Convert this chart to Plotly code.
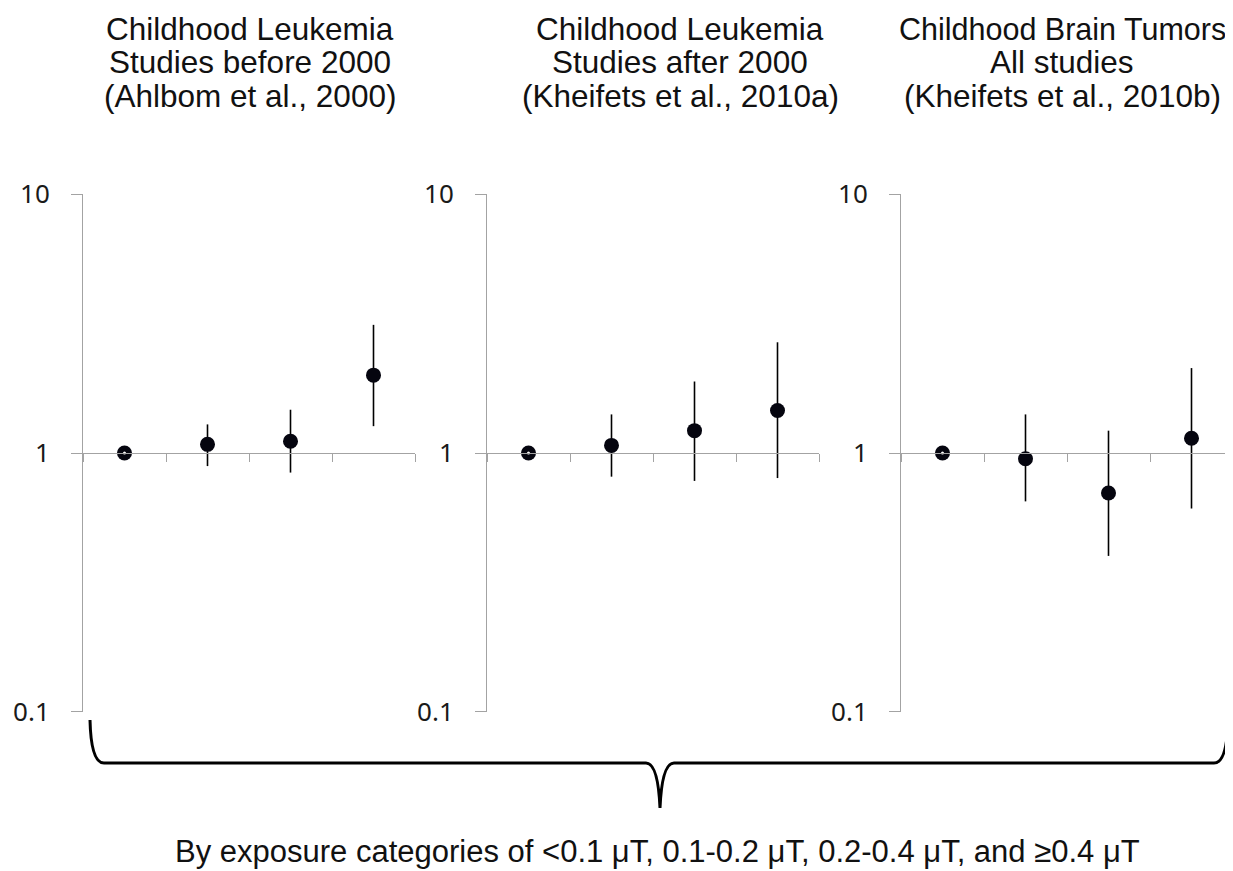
import plotly.graph_objects as go
import math

# ---------------- data ----------------
categories = ["<0.1 μT", "0.1-0.2 μT", "0.2-0.4 μT", "≥0.4 μT"]
cat_pos = [1, 2, 3, 4]

title_ahlbom = ["Childhood Leukemia", "Studies before 2000", "(Ahlbom et al., 2000)"]
title_k10a = ["Childhood Leukemia", "Studies after 2000", "(Kheifets et al., 2010a)"]
title_k10b = ["Childhood Brain Tumors", "All studies", "(Kheifets et al., 2010b)"]

or_ahlbom = [1.00, 1.08, 1.11, 2.00]
lo_ahlbom = [1.00, 0.89, 0.84, 1.27]
hi_ahlbom = [1.00, 1.29, 1.47, 3.13]

or_k10a = [1.00, 1.07, 1.22, 1.46]
lo_k10a = [1.00, 0.81, 0.78, 0.80]
hi_k10a = [1.00, 1.41, 1.89, 2.68]

or_k10b = [1.00, 0.95, 0.70, 1.14]
lo_k10b = [1.00, 0.65, 0.40, 0.61]
hi_k10b = [1.00, 1.41, 1.22, 2.13]

y_ticks = [0.1, 1, 10]
y_ticktext = ["0.1", "1", "10"]
footer = "By exposure categories of <0.1 μT, 0.1-0.2 μT, 0.2-0.4 μT, and ≥0.4 μT"

# ---------------- layout helpers ----------------
W, H = 1233, 871
OFF = 8  # the page's default body margin shifts the figure by 8 px
def px(x):
    return (x - OFF) / W
def py(y):
    return 1 - (y - OFF) / H

panels = [
    (title_ahlbom, or_ahlbom, lo_ahlbom, hi_ahlbom, 83, 415, 250, [31.5, 31.5, 31.5]),
    (title_k10a, or_k10a, lo_k10a, hi_k10a, 487, 819, 680, [31.5, 31.5, 31.5]),
    (title_k10b, or_k10b, lo_k10b, hi_k10b, 901, 1233, 1062, [30.5, 31.5, 31.5]),
]
y_top, y_bot = 194, 712
ydom = [py(y_bot), py(y_top)]
yrange = [-1.0015, 1.0015]
# paper position of y = 1 (the level where the category axis crosses)
x_axis_pos = ydom[0] + (ydom[1] - ydom[0]) * (math.log10(1) - yrange[0]) / (yrange[1] - yrange[0])

GRID = "#a3a3a3"
fig = go.Figure()
annotations = []

for i, (ttl, orv, lo, hi, xl, xr, tc, tsizes) in enumerate(panels):
    n = "" if i == 0 else str(i + 1)
    xa, ya = "x" + n, "y" + n
    fig.add_trace(go.Scatter(
        x=cat_pos, y=orv, mode="markers", xaxis=xa, yaxis=ya,
        marker=dict(size=15, color="#05050f"),
        error_y=dict(type="data", symmetric=False,
                     array=[h - o for h, o in zip(hi, orv)],
                     arrayminus=[o - l for o, l in zip(orv, lo)],
                     color="black", thickness=1.6, width=0),
        showlegend=False, hoverinfo="skip",
    ))
    # small white centre on the reference category marker
    fig.add_trace(go.Scatter(
        x=cat_pos[:1], y=orv[:1], mode="markers", xaxis=xa, yaxis=ya,
        marker=dict(size=3, color="white"), showlegend=False, hoverinfo="skip",
    ))
    fig.layout["xaxis" + n] = dict(
        domain=[px(xl), px(xr)], range=[0.5, 4.5], anchor="free", position=x_axis_pos,
        showline=True, linecolor=GRID, linewidth=1,
        tickvals=[0.5, 1.5, 2.5, 3.5, 4.5], ticks="outside", ticklen=8,
        tickcolor=GRID, tickwidth=1, showticklabels=False,
        showgrid=False, zeroline=False, fixedrange=True, automargin=False,
    )
    fig.layout["yaxis" + n] = dict(
        domain=ydom, type="log", range=yrange, anchor=xa,
        tickvals=y_ticks, ticktext=y_ticktext,
        ticks="outside", ticklen=11, tickcolor=GRID, tickwidth=1,
        showline=True, linecolor=GRID, linewidth=1,
        showgrid=True, gridcolor=GRID, gridwidth=1, zeroline=False,
        tickfont=dict(family="Noto Sans", size=26, color="#1a1a1a"),
        ticklabelstandoff=16, fixedrange=True, automargin=False,
    )
    for line, yc, fs in zip(ttl, [28.5, 62, 96], tsizes):
        annotations.append(dict(
            text=line, x=px(tc), y=py(yc), xref="paper", yref="paper",
            xanchor="center", yanchor="middle", showarrow=False,
            font=dict(family="Liberation Sans, Arial", size=fs, color="#111"),
        ))

annotations.append(dict(
    text=footer, x=px(657.5), y=py(851), xref="paper", yref="paper",
    xanchor="center", yanchor="middle", showarrow=False,
    font=dict(family="Liberation Sans, Arial", size=31, color="#111"),
))

# curly brace under the three panels
brace = (f"M {px(90)},{py(720)} Q {px(91)},{py(763)} {px(104)},{py(763)} "
         f"L {px(646)},{py(763)} Q {px(658)},{py(763)} {px(660)},{py(808)} "
         f"Q {px(662)},{py(763)} {px(674)},{py(763)} "
         f"L {px(1214)},{py(763)} Q {px(1227)},{py(763)} {px(1228)},{py(720)}")

fig.update_layout(
    template="none",
    width=W, height=H, margin=dict(l=0, r=0, t=0, b=0, pad=0, autoexpand=False),
    paper_bgcolor="white", plot_bgcolor="white",
    annotations=annotations,
    shapes=[dict(type="path", path=brace, xref="paper", yref="paper",
                 line=dict(color="black", width=3))],
)

fig.write_html("out.html", config={"displayModeBar": False})
